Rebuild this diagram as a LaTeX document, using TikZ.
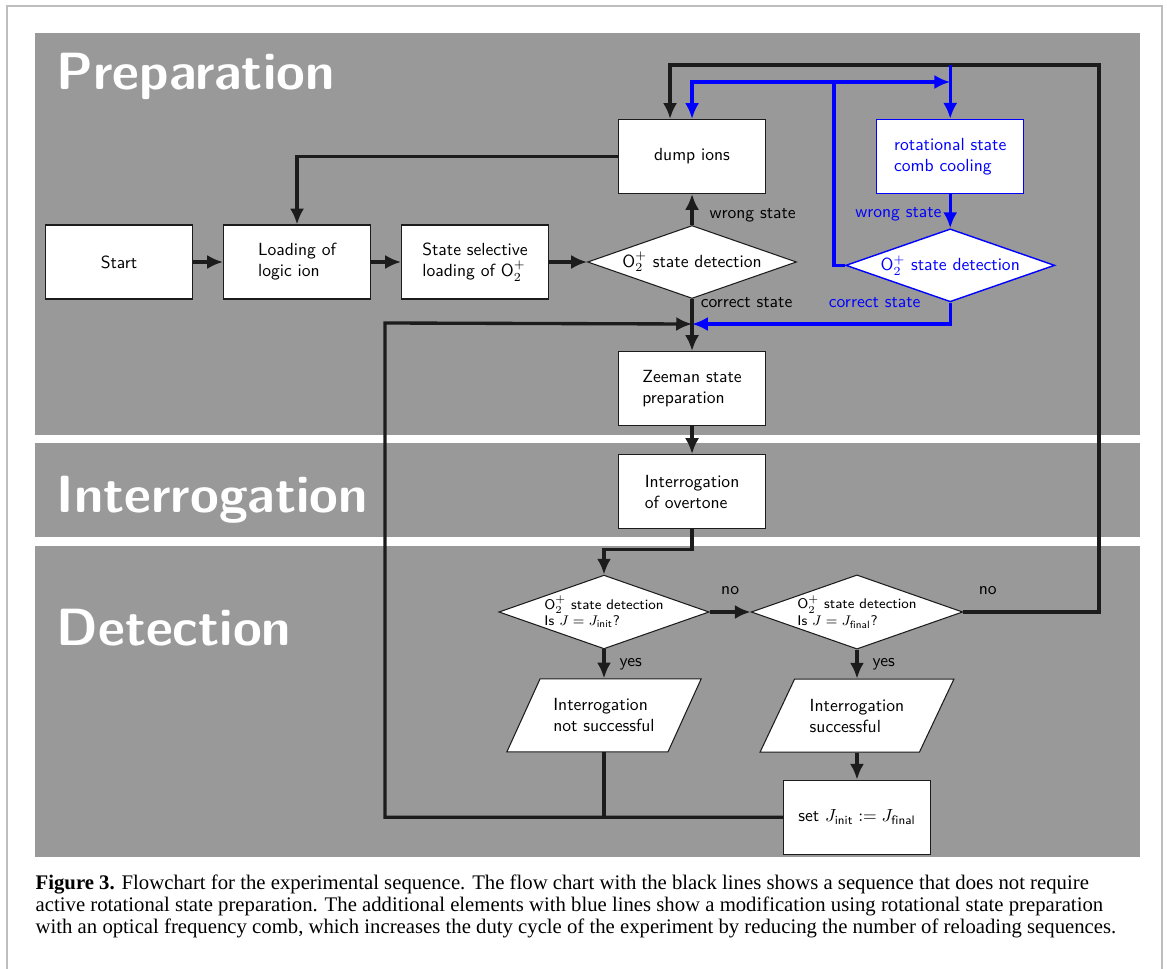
\documentclass[tikz,border=0pt]{standalone}
\usepackage{amsmath}
\usepackage{fontspec}
\usepackage{tikz}
\usetikzlibrary{positioning, shapes.geometric, arrows.meta}
\newfontfamily\captionfont{Liberation Serif}
\definecolor{panelgray}{RGB}{153,153,153}
\definecolor{linegray}{RGB}{28,28,28}
\definecolor{framegray}{RGB}{190,190,190}

\begin{document}
\begin{tikzpicture}[x=0.02cm, y=-0.02cm, thick,
  >={Latex[length=9pt,width=8pt]},
  proc node/.style={rectangle, draw=linegray, line width=0.6pt, fill=white,
    minimum width=2.94cm, minimum height=1.48cm, align=left, font=\sffamily},
  dec node/.style={diamond, draw=linegray, line width=0.6pt, fill=white, aspect=2.85,
    inner sep=0pt, minimum width=4.18cm, minimum height=1.46cm, align=left, font=\sffamily},
  io node/.style={trapezium, trapezium left angle=57, trapezium right angle=123,
    trapezium stretches=true, draw=linegray, line width=0.6pt, fill=white,
    minimum width=3.9cm, minimum height=1.46cm, align=left, font=\sffamily},
  blue node/.style={text=blue, draw=blue, line width=0.8pt},
  flow/.style={draw=linegray, line width=1.9pt},
  bflow/.style={draw=blue, line width=1.9pt},
  lbl/.style={font=\sffamily, inner sep=2pt},
  panel title/.style={text=white, anchor=base west, inner sep=0pt,
    font=\sffamily\bfseries\fontsize{29.8}{35}\selectfont}]

\useasboundingbox (0,0) rectangle (1167,969);
\draw[framegray, line width=0.8pt] (7,975) -- (7,6) -- (1162,6) -- (1162,975);

\fill[panelgray] (35,33) rectangle (1140,435);
\fill[panelgray] (35,443) rectangle (1140,537);
\fill[panelgray] (35,546) rectangle (1140,857);

\node[panel title] (prep) at (56,90) {Preparation};
\node[panel title] (intg) at (56,513) {Interrogation};
\node[panel title] (detc) at (56,645) {Detection};

\node[proc node] (start) at (119,262) {Start};
\node[proc node] (load) [right=0.6cm of start] {Loading of\\logic ion};
\node[proc node] (sel) [right=0.6cm of load] {State selective\\loading of $\mathsf{O}_2^+$};
\node[dec node] (det) [right=0.76cm of sel] {$\mathsf{O}_2^+$ state detection};
\node[proc node] (dump) [above=0.62cm of det] {dump ions};
\node[proc node] (zee) [below=1.04cm of det] {Zeeman state\\preparation};
\node[proc node] (int) [below=0.56cm of zee] {Interrogation\\of overtone};
\node[proc node, blue node] (rot) [right=2.2cm of dump] {rotational state\\comb cooling};
\node[dec node, blue node] (bdet) [below=0.68cm of rot] {$\mathsf{O}_2^+$ state detection};

\node[dec node, font=\sffamily\footnotesize] (det1) at (604,612)
  {$\mathsf{O}_2^+$ state detection\\Is $J = J_{\mathsf{init}}$?};
\node[dec node, font=\sffamily\footnotesize] (det2) [right=0.82cm of det1]
  {$\mathsf{O}_2^+$ state detection\\Is $J = J_{\mathsf{final}}$?};
\node[io node] (fail) [below=0.58cm of det1] {Interrogation\\not successful};
\node[io node] (succ) [below=0.58cm of det2] {Interrogation\\successful};
\node[proc node] (set) [below=0.54cm of succ] {set $J_{\mathsf{init}} := J_{\mathsf{final}}$};

\coordinate (merge) at ([yshift=-0.5cm]det.south);
\coordinate (kink) at ([yshift=0.5cm]det1.north);
\coordinate (loopL) at (385,323);
\coordinate (loopR) at (1099,65);
\coordinate (bsplit) at (834,82);
\coordinate (btop) at (rot.north |- loopR);
\coordinate (bmerge) at (rot.north |- bsplit);

\draw[flow,->] (start) -- (load);
\draw[flow,->] (load) -- (sel);
\draw[flow,->] (sel) -- (det);
\draw[flow,->] (dump.west) -| (load.north);
\draw[flow,->] (det.north) -- node[lbl, right=7pt, pos=0.3] {wrong state} (dump.south);
\draw[flow,->] (det.south) -- node[lbl, pos=0, anchor=west, xshift=2pt, yshift=-2pt] {correct state} (zee.north);
\draw[flow,->] (zee) -- (int);
\draw[flow,->] (int.south) |- (kink) -- (det1.north);
\draw[flow,->] (det1.east) -- node[lbl, above=7pt] {no} (det2.west);
\draw[flow,->] (det1.south) -- node[lbl, right=6pt] {yes} (fail.north);
\draw[flow,->] (det2.south) -- node[lbl, right=6pt] {yes} (succ.north);
\draw[flow,->] (succ.south) -- (set.north);
\draw[flow] (fail.south) -- (fail.south |- set.west);
\draw[flow,->] (set.west) -| (loopL) -- (merge);
\draw[flow,->] (det2.east) -| node[lbl, pos=0.09, above=7pt] {no} (loopR) -| ([xshift=-0.44cm]dump.north);

\draw[bflow,->] (bdet.west) -| (bsplit) -- (bmerge);
\draw[bflow,->] (bsplit) -| (dump.north);
\draw[bflow,->] (btop) -- (rot.north);
\draw[bflow,->] (rot.south) -- node[lbl, text=blue, left=2pt, pos=0.6] {wrong state} (bdet.north);
\draw[bflow,->] (bdet.south) |- node[lbl, text=blue, pos=0, anchor=east, xshift=-14pt] {correct state} (merge);

\node[anchor=north west, inner sep=0pt, align=left,
  font=\captionfont\fontsize{11.8}{12.6}\selectfont] (capt) at (35,874)
  {\textbf{Figure 3.} Flowchart for the experimental sequence. The flow chart with the black lines shows a sequence that does not require\\
   active rotational state preparation. The additional elements with blue lines show a modification using rotational state preparation\\
   with an optical frequency comb, which increases the duty cycle of the experiment by reducing the number of reloading sequences.};

\end{tikzpicture}
\end{document}
